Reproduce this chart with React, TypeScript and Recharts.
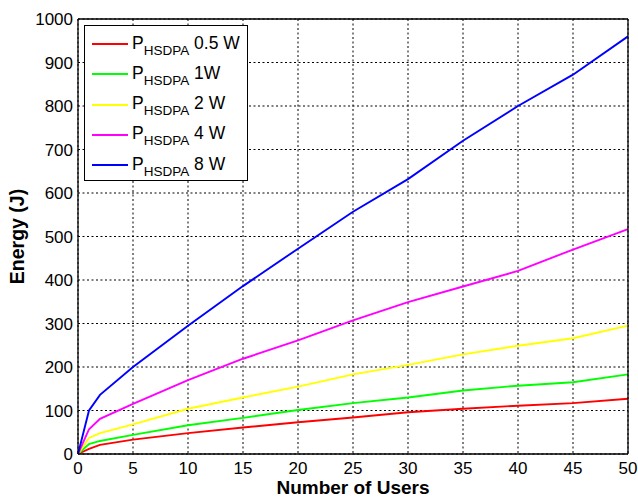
import React from "react";
import { CartesianGrid, Legend, Line, LineChart, XAxis, YAxis } from "recharts";

const users = [0, 1, 2, 5, 10, 15, 20, 25, 30, 35, 40, 45, 50];
const p05 = [0, 12, 21, 33, 48, 61, 73, 84, 96, 104, 111, 117, 127];
const p1 = [0, 23, 30, 44, 66, 83, 101, 117, 130, 146, 157, 165, 183];
const p2 = [0, 37, 48, 68, 104, 130, 155, 183, 205, 229, 249, 266, 295];
const p4 = [0, 57, 81, 115, 170, 219, 261, 307, 349, 385, 421, 470, 517];
const p8 = [0, 100, 136, 200, 295, 386, 472, 557, 632, 720, 800, 872, 960];

const xTicks = [0, 5, 10, 15, 20, 25, 30, 35, 40, 45, 50];
const yTicks = [0, 100, 200, 300, 400, 500, 600, 700, 800, 900, 1000];

const series = [
  { key: "p05", label: "0.5 W", color: "#ff0000", values: p05 },
  { key: "p1", label: "1W", color: "#00ff00", values: p1 },
  { key: "p2", label: "2 W", color: "#ffff00", values: p2 },
  { key: "p4", label: "4 W", color: "#ff00ff", values: p4 },
  { key: "p8", label: "8 W", color: "#0000ff", values: p8 },
];

const data = users.map((u, i) => {
  const row: Record<string, number> = { users: u };
  series.forEach((s) => (row[s.key] = s.values[i]));
  return row;
});

const FONT = "'Liberation Sans', Arial, Helvetica, sans-serif";
const tickStyle = { fontSize: 17, fill: "#000", fontFamily: FONT };

function LegendBox({ payload }: any) {
  return (
    <div
      style={{
        width: 164,
        height: 156,
        boxSizing: "border-box",
        border: "1px solid #000",
        background: "#fff",
        paddingTop: 2,
        fontFamily: FONT,
        color: "#000",
      }}
    >
      {(payload || []).map((p: any) => (
        <div key={p.value} style={{ display: "flex", alignItems: "center", height: 30.25 }}>
          <span style={{ display: "inline-block", width: 36, height: 2, background: p.color, marginLeft: 7, marginRight: 4, marginTop: 2 }} />
          <span style={{ fontSize: 17.5, lineHeight: "17px", whiteSpace: "nowrap" }}>
            P<sub style={{ fontSize: 13.5, verticalAlign: "-6px", lineHeight: 0 }}>HSDPA</sub> {p.value}
          </span>
        </div>
      ))}
    </div>
  );
}

function YLabel({ viewBox }: any) {
  const cx = viewBox.x + 17;
  const cy = viewBox.y + viewBox.height / 2;
  return (
    <text
      x={cx}
      y={cy}
      transform={`rotate(-90 ${cx} ${cy})`}
      textAnchor="middle"
      dominantBaseline="central"
      style={{ fontSize: 19.5, fontWeight: "bold", fontFamily: FONT, fill: "#000" }}
    >
      Energy (J)
    </text>
  );
}

export default function App() {
  return (
    <div style={{ position: "fixed", left: 0, top: 0, width: 638, height: 497, background: "#fff" }}>
      <LineChart width={638} height={497} data={data} margin={{ top: 19, right: 10, bottom: 0, left: 0 }}>
        <CartesianGrid stroke="#000" strokeDasharray="2 2.5" />
        <XAxis
          dataKey="users"
          type="number"
          domain={[0, 50]}
          ticks={xTicks}
          height={43}
          tickLine={false}
          tickSize={0}
          tickMargin={8}
          tick={tickStyle}
          axisLine={{ stroke: "#000", strokeWidth: 1.3 }}
          label={{ value: "Number of Users", position: "insideBottom", offset: 3, style: { fontSize: 19, fontWeight: "bold", fontFamily: FONT, fill: "#000" } }}
        />
        <XAxis xAxisId="bin" type="number" domain={[0, 50]} ticks={xTicks} orientation="bottom" mirror tick={false} tickSize={5} axisLine={false} tickLine={{ stroke: "#000" }} allowDataOverflow />
        <XAxis xAxisId="top" type="number" domain={[0, 50]} ticks={xTicks} orientation="top" mirror tick={false} tickSize={5} axisLine={{ stroke: "#000", strokeWidth: 1.3 }} tickLine={{ stroke: "#000" }} allowDataOverflow />
        <YAxis
          type="number"
          domain={[0, 1000]}
          ticks={yTicks}
          width={78}
          tickLine={false}
          tickSize={0}
          tickMargin={5}
          tick={tickStyle}
          axisLine={{ stroke: "#000", strokeWidth: 1.3 }}
          label={<YLabel />}
        />
        <YAxis yAxisId="lin" type="number" domain={[0, 1000]} ticks={yTicks} orientation="left" mirror tick={false} tickSize={5} axisLine={false} tickLine={{ stroke: "#000" }} allowDataOverflow />
        <YAxis yAxisId="right" type="number" domain={[0, 1000]} ticks={yTicks} orientation="right" mirror tick={false} tickSize={5} axisLine={{ stroke: "#000", strokeWidth: 1.3 }} tickLine={{ stroke: "#000" }} allowDataOverflow />
        <Legend
          content={<LegendBox />}
          layout="vertical"
          align="center"
          verticalAlign="middle"
          wrapperStyle={{ left: 84, top: 25, width: 164, height: 156 }}
        />
        {series.map((s) => (
          <Line
            key={s.key}
            dataKey={s.key}
            name={s.label}
            stroke={s.color}
            strokeWidth={1.9}
            dot={false}
            type="linear"
            isAnimationActive={false}
          />
        ))}
      </LineChart>
    </div>
  );
}
